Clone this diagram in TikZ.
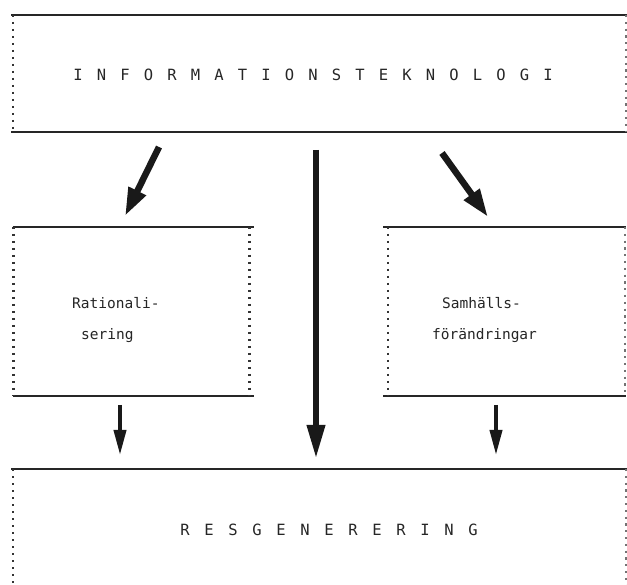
\documentclass[tikz,border=0pt]{standalone}
\usepackage{fontspec}
\setmonofont{DejaVu Sans Mono}
\usetikzlibrary{arrows.meta}
\newcommand\lspA[1]{\makebox[23.5pt]{#1}}
\newcommand\lspB[1]{\makebox[24pt]{#1}}
\begin{document}
\begin{tikzpicture}[x=1pt,y=-1pt,
  frame/.style={inner sep=0pt, outer sep=0pt, minimum width=#1},
  hline/.style={line width=2.2pt, black!85},
  vdots/.style={line width=2.6pt, dash pattern=on 2.4pt off 4.6pt, black!80},
  vdotsr/.style={line width=1.8pt, dash pattern=on 2.2pt off 4.6pt, black!55},
  txt/.style={font=\ttfamily\fontsize{14.5}{33}\selectfont, inner sep=0pt, text=black!85},
  ttl/.style={font=\ttfamily\fontsize{15.5}{20}\selectfont, inner sep=0pt, text=black!85},
  bigarrow/.style={line width=6.5pt, black!90, -{Triangle[length=28pt,width=18pt]}},
  smallarrow/.style={line width=3.8pt, black!90, -{Triangle[length=25pt,width=12pt]}}
]
\useasboundingbox (0,0) rectangle (627,585);
\fill[white] (0,0) rectangle (627,585);

% boxes (invisible frames)
\node[frame=616pt, minimum height=117pt] (it) at (319,73.5) {};
\node[frame=237pt, minimum height=169pt] (rat) at (131,311.5) {};
\node[frame=240pt, minimum height=169pt] (sam) at (506,311.5) {};
\node[frame=616pt, minimum height=116pt] (res) at (319,527) {};

% top box edges
\draw[hline] (it.north west) -- (it.north east);
\draw[hline] (it.south west) -- (it.south east);
\draw[vdots] ([xshift=2pt]it.north west) -- ([xshift=2pt]it.south west);
\draw[vdotsr] ([xshift=-1pt]it.north east) -- ([xshift=-1pt]it.south east);

% left box edges
\draw[hline] (rat.north west) -- ([xshift=4pt]rat.north east);
\draw[hline] (rat.south west) -- ([xshift=4pt]rat.south east);
\draw[vdots] ([xshift=1pt]rat.north west) -- ([xshift=1pt]rat.south west);
\draw[vdots] (rat.north east) -- (rat.south east);

% right box edges
\draw[hline] ([xshift=-3pt]sam.north west) -- (sam.north east);
\draw[hline] ([xshift=-3pt]sam.south west) -- (sam.south east);
\draw[vdots] ([xshift=2pt]sam.north west) -- ([xshift=2pt]sam.south west);
\draw[vdotsr] ([xshift=-1pt]sam.north east) -- ([xshift=-1pt]sam.south east);

% bottom box edges
\draw[hline] (res.north west) -- (res.north east);
\draw[vdots] ([xshift=2pt]res.north west) -- ([xshift=2pt]res.south west);
\draw[vdotsr] ([xshift=-1pt]res.north east) -- ([xshift=-1pt]res.south east);

% texts
\node[ttl] (itT) at (313,75) {\lspA{I}\lspA{N}\lspA{F}\lspA{O}\lspA{R}\lspA{M}\lspA{A}\lspA{T}\lspA{I}\lspA{O}\lspA{N}\lspA{S}\lspA{T}\lspA{E}\lspA{K}\lspA{N}\lspA{O}\lspA{L}\lspA{O}\lspA{G}\lspA{I}};
\node[txt, anchor=west] (ratA) at (72,303) {Rationali-};
\node[txt, anchor=west] (ratB) at (81,336) {sering};
\node[txt, anchor=west] (samA) at (442,303) {Samhälls-};
\node[txt, anchor=west] (samB) at (432,336) {förändringar};
\node[ttl] (resT) at (329,530) {\lspB{R}\lspB{E}\lspB{S}\lspB{G}\lspB{E}\lspB{N}\lspB{E}\lspB{R}\lspB{E}\lspB{R}\lspB{I}\lspB{N}\lspB{G}};

% arrow end points
\coordinate (la1) at (159,147);
\coordinate (la2) at (125,216);
\coordinate (ca1) at (316,150);
\coordinate (ca2) at (316,459);
\coordinate (ra1) at (442,153);
\coordinate (ra2) at (488,217);
\coordinate (sl1) at (120,405);
\coordinate (sl2) at (120,455);
\coordinate (sr1) at (496,405);
\coordinate (sr2) at (496,455);

\draw[bigarrow] (la1) -- (la2);
\draw[bigarrow, -{Triangle[length=34pt,width=17pt]}] (ca1) -- (ca2);
\draw[bigarrow] (ra1) -- (ra2);
\draw[smallarrow] (sl1) -- (sl2);
\draw[smallarrow] (sr1) -- (sr2);
\end{tikzpicture}
\end{document}
